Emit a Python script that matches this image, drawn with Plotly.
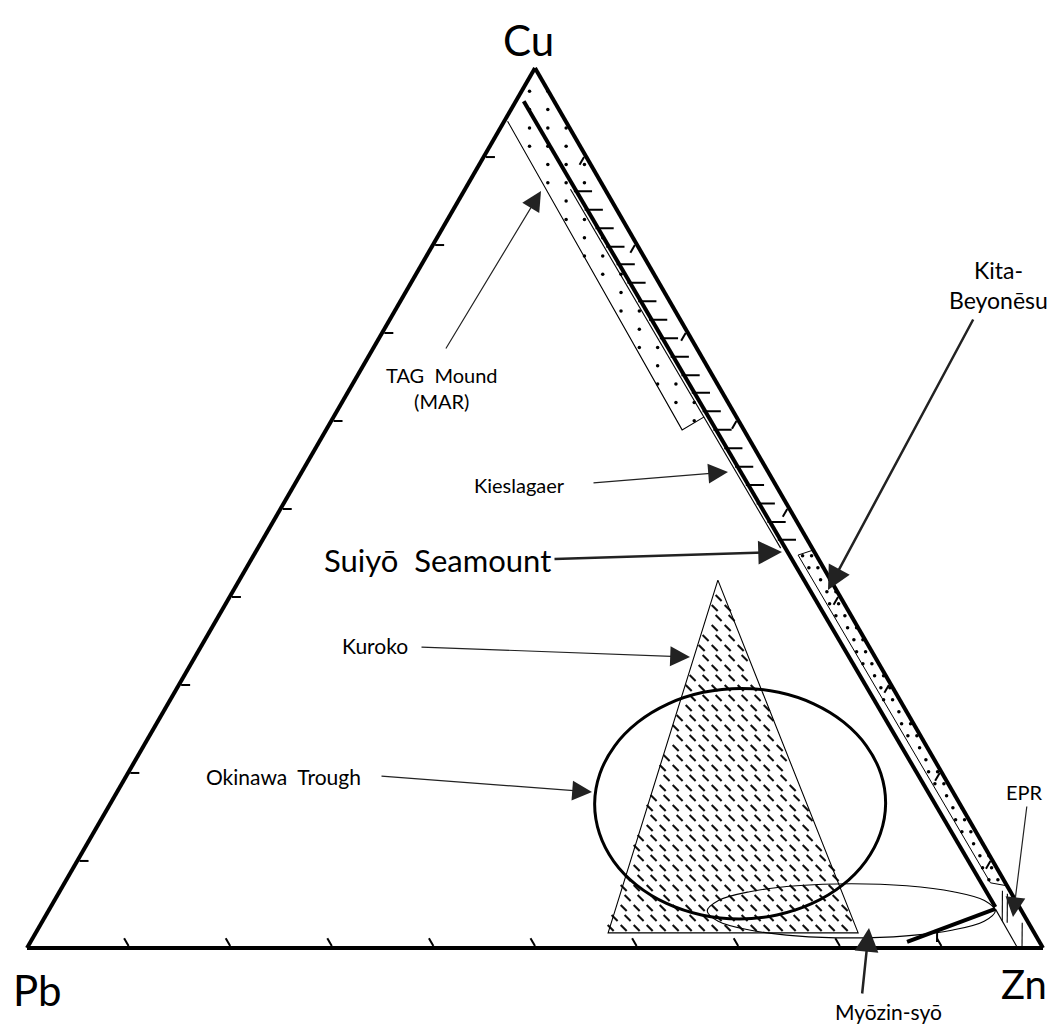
import math
import plotly.graph_objects as go

# ---------------- data: ternary values in % (Cu, Pb, Zn) ----------------
# Okinawa Trough field (ellipse outline)
okinawa_cu = [16.40, 19.79, 22.95, 25.66, 27.74, 29.05, 29.50, 29.05, 27.74, 25.66, 22.95, 19.79,
              16.40, 13.01, 9.85, 7.14, 5.06, 3.75, 3.30, 3.75, 5.06, 7.14, 9.85, 13.01, 16.40]
okinawa_pb = [7.29, 6.06, 5.89, 6.79, 8.70, 11.49, 14.97, 18.91, 23.02, 27.04, 30.69, 33.72,
              35.93, 37.15, 37.33, 36.43, 34.52, 31.73, 28.25, 24.31, 20.19, 16.17, 12.53, 9.50, 7.29]
okinawa_zn = [76.31, 74.15, 71.16, 67.55, 63.56, 59.46, 55.53, 52.04, 49.24, 47.30, 46.36, 46.49,
              47.67, 49.84, 52.82, 56.43, 60.42, 64.52, 68.45, 71.94, 74.75, 76.69, 77.62, 77.49, 76.31]

# Myozin-syo field (flat ellipse)
myozin_cu = [4.21, 5.39, 6.39, 7.06, 7.29, 7.06, 6.39, 5.39, 4.21, 3.04, 2.04, 1.37, 1.14, 1.37, 2.04, 3.04, 4.21]
myozin_pb = [2.59, 3.07, 5.64, 9.89, 15.20, 20.74, 25.68, 29.25, 30.94, 30.45, 27.88, 23.63, 18.32, 12.78, 7.84, 4.27, 2.59]
myozin_zn = [93.20, 91.54, 87.97, 83.05, 77.51, 72.20, 67.93, 65.36, 64.85, 66.51, 70.08, 75.00, 80.54, 85.85, 90.12, 92.69, 93.20]

# Myozin-syo trend line and its tick
myozin_line_cu = [0.68, 4.44]
myozin_line_pb = [13.04, 2.47]
myozin_line_zn = [86.28, 93.09]
myozin_tick_cu = [1.94, 0.68]
myozin_tick_pb = [9.45, 10.09]
myozin_tick_zn = [88.61, 89.23]

# Kuroko field (triangle)
kuroko_cu = [41.80, 1.71, 1.71, 41.80]
kuroko_pb = [11.10, 41.95, 17.34, 11.10]
kuroko_zn = [47.10, 56.34, 80.95, 47.10]

# TAG Mound (MAR) field
tag_outline_cu = [93.96, 58.88, 60.36]
tag_outline_pb = [5.72, 6.08, 3.17]
tag_outline_zn = [0.32, 35.04, 36.47]
tag_field_cu = [100.0, 93.96, 58.88, 60.36, 85.08, 85.08]
tag_field_pb = [0.0, 5.72, 6.08, 3.17, 2.91, 0.0]
tag_field_zn = [0.0, 0.32, 35.04, 36.47, 12.01, 14.92]

# Suiyo Seamount trend (thick line)
suiyo_cu = [96.24, 4.66]
suiyo_pb = [2.99, 2.36]
suiyo_zn = [0.77, 92.98]

# Kieslagaer (thin line + comb marks)
kies_cu = [86.22, 45.44]
kies_pb = [3.40, 3.10]
kies_zn = [10.38, 51.46]
kies_tick_cu = [86.0, 83.9, 81.8, 79.7, 77.7, 75.6, 73.5, 71.4, 69.3, 67.2,
                65.1, 63.1, 61.0, 58.9, 56.8, 54.7, 52.6, 50.5, 48.4, 46.4]

# Kita-Beyonesu field
kita_cu = [45.22, 44.65, 7.40, 7.06]
kita_pb = [0.0, 1.78, 1.47, 0.0]
kita_zn = [54.78, 53.57, 91.13, 92.94]

# EPR short segments (None = gap)
epr_cu = [6.49, 3.08, None, 6.15, 2.85, None, 2.85, 0.11, None, 4.44, 0.11]
epr_pb = [0.75, 2.47, None, 0.43, 2.10, None, 0.62, 2.01, None, 2.47, 2.50]
epr_zn = [92.76, 94.45, None, 93.42, 95.05, None, 96.53, 97.88, None, 93.09, 97.39]

# ---------------- helpers for decorative textures ----------------
# The page body has an 8 px margin, so the figure is 16 px smaller than the window.
OFF = 8
W, H = 1058 - 2 * OFF, 1036 - 2 * OFF
SIDE = 1016.0
SQ = math.sqrt(3) / 2


def tern_to_xy(a, b, c):
    s = a + b + c
    return (c / s + 0.5 * a / s, SQ * a / s)


def xy_to_tern(x, y):
    a = y / SQ
    c = x - 0.5 * a
    return 100 * a, 100 * (1 - a - c), 100 * c


def point_in_poly(x, y, poly):
    inside = False
    j = len(poly) - 1
    for i in range(len(poly)):
        xi, yi = poly[i]
        xj, yj = poly[j]
        if (yi > y) != (yj > y):
            xc = xi + (y - yi) * (xj - xi) / (yj - yi)
            if x < xc:
                inside = not inside
        j = i
    return inside


def texture(cu, pb, zn, step_px, row_px, stagger):
    poly = [tern_to_xy(a, b, c) for a, b, c in zip(cu, pb, zn)]
    xs = [p[0] for p in poly]
    ys = [p[1] for p in poly]
    dx, dy = step_px / SIDE, row_px / SIDE
    A, B, C = [], [], []
    y = min(ys) + dy / 2
    row = 0
    while y < max(ys):
        x = min(xs) + (dx / 2 if (stagger and row % 2) else dx / 5)
        while x < max(xs):
            if point_in_poly(x, y, poly):
                a, b, c = xy_to_tern(x, y)
                A.append(a); B.append(b); C.append(c)
            x += dx
        y += dy
        row += 1
    return A, B, C


def line(cu, pb, zn, width, color="black", shape="linear"):
    return go.Scatterternary(a=cu, b=pb, c=zn, mode="lines",
                             line=dict(width=width, color=color, shape=shape),
                             hoverinfo="skip", showlegend=False, connectgaps=False)


def marks(A, B, C, symbol, size, lw, color="black"):
    return go.Scatterternary(a=A, b=B, c=C, mode="markers",
                             marker=dict(symbol=symbol, size=size, color=color,
                                         line=dict(width=lw, color=color)),
                             hoverinfo="skip", showlegend=False)


fig = go.Figure()

# Kuroko hatch + outline
ka, kb, kc = texture(kuroko_cu, kuroko_pb, kuroko_zn, 13.0, 10.0, True)
fig.add_trace(marks(ka, kb, kc, "line-nw", 6, 2.1, "#111"))
fig.add_trace(line(kuroko_cu, kuroko_pb, kuroko_zn, 1.1))

# TAG dots + outline
ta, tb, tc = texture(tag_field_cu, tag_field_pb, tag_field_zn, 18.3, 18.3, False)
fig.add_trace(marks(ta, tb, tc, "circle", 3.5, 0))
fig.add_trace(line(tag_outline_cu, tag_outline_pb, tag_outline_zn, 1.1))

# Kita-Beyonesu dots + outline
ba, bb, bc = texture(kita_cu, kita_pb, kita_zn, 9.0, 12.0, True)
fig.add_trace(marks(ba, bb, bc, "circle", 3.5, 0))
fig.add_trace(line(kita_cu, kita_pb, kita_zn, 1.0))

# Kieslagaer thin line and comb marks to the right of the Suiyo line
fig.add_trace(line(kies_cu, kies_pb, kies_zn, 1.1))
tick_pb, tick_zn = [], []
for a in kies_tick_cu:
    t = (a - suiyo_cu[0]) / (suiyo_cu[1] - suiyo_cu[0])
    p = suiyo_pb[0] + t * (suiyo_pb[1] - suiyo_pb[0])
    off = 100 * 6.5 / SIDE
    tick_pb.append(p - off)
    tick_zn.append(100 - a - p + off)
fig.add_trace(marks(kies_tick_cu, tick_pb, tick_zn, "line-ew", 13, 2))

# Suiyo thick line
fig.add_trace(line(suiyo_cu, suiyo_pb, suiyo_zn, 4))

# EPR segments
fig.add_trace(line(epr_cu, epr_pb, epr_zn, 1.1))

# Myozin-syo
fig.add_trace(line(myozin_cu, myozin_pb, myozin_zn, 1.1, shape="spline"))
fig.add_trace(line(myozin_line_cu, myozin_line_pb, myozin_line_zn, 4))
fig.add_trace(line(myozin_tick_cu, myozin_tick_pb, myozin_tick_zn, 2))

# Okinawa Trough
fig.add_trace(line(okinawa_cu, okinawa_pb, okinawa_zn, 3, shape="spline"))

axis_common = dict(showgrid=False, showline=True, linecolor="black", linewidth=4,
                   ticks="inside", ticklen=9, tickwidth=2, tickcolor="black",
                   tick0=0, dtick=10, showticklabels=False, min=0,
                   title=dict(text=""))

fig.update_layout(
    width=W, height=H,
    margin=dict(l=0, r=0, t=0, b=0),
    paper_bgcolor="white",
    showlegend=False,
    ternary=dict(
        sum=100,
        bgcolor="white",
        domain=dict(x=[(27 - OFF) / W, (1043 - OFF) / W],
                    y=[1 - (948 - OFF) / H, 1 - (68 - OFF) / H]),
        aaxis=axis_common, baxis=axis_common, caxis=axis_common,
    ),
)


def P(x, y):
    return (x - OFF) / W, 1 - (y - OFF) / H


def label(text, x, y, size, xanchor="center"):
    px, py = P(x, y)
    fig.add_annotation(x=px, y=py, xref="paper", yref="paper", text=text, showarrow=False,
                       font=dict(family="Lato", size=size, color="black"),
                       xanchor=xanchor, yanchor="middle", align="center")


def arrow(tail, tip, width, size):
    px, py = P(*tip)
    fig.add_annotation(x=px, y=py, xref="paper", yref="paper", text="",
                       showarrow=True, axref="pixel", ayref="pixel",
                       ax=tail[0] - tip[0], ay=tail[1] - tip[1],
                       arrowhead=2, arrowsize=size, arrowwidth=width, arrowcolor="#222")


# vertex labels
label("Cu", 528, 40, 42)
label("Pb", 37, 990, 42)
label("Zn", 1049, 984, 40, "right")

# field labels
label("TAG\u00a0 Mound<br>(MAR)", 442, 388, 20)
label("Kieslagaer", 567, 485, 20, "right")
label("Suiy\u014d\u00a0 Seamount", 322, 560, 31, "left")
label("Kuroko", 410, 645, 21, "right")
label("Okinawa\u00a0 Trough", 363, 776, 21, "right")
label("EPR", 1024, 792, 20)
label("Kita-<br>Beyon\u0113su", 998, 285, 23)
label("My\u014dzin-sy\u014d", 944, 1011, 21, "right")

# arrows
arrow((445, 350), (541, 191), 1.2, 3.3)
arrow((592, 483), (728, 472), 1.2, 3.3)
arrow((553, 559), (782, 552), 2.5, 1.9)
arrow((420, 647), (690, 657), 1.2, 3.3)
arrow((380, 776), (592, 792), 1.2, 3.3)
arrow((974, 318), (828, 590), 2.5, 1.9)
arrow((1027, 805), (1013, 917), 1.2, 3.3)
arrow((862, 995), (869, 928), 2.5, 1.9)

fig.write_html("out.html")
